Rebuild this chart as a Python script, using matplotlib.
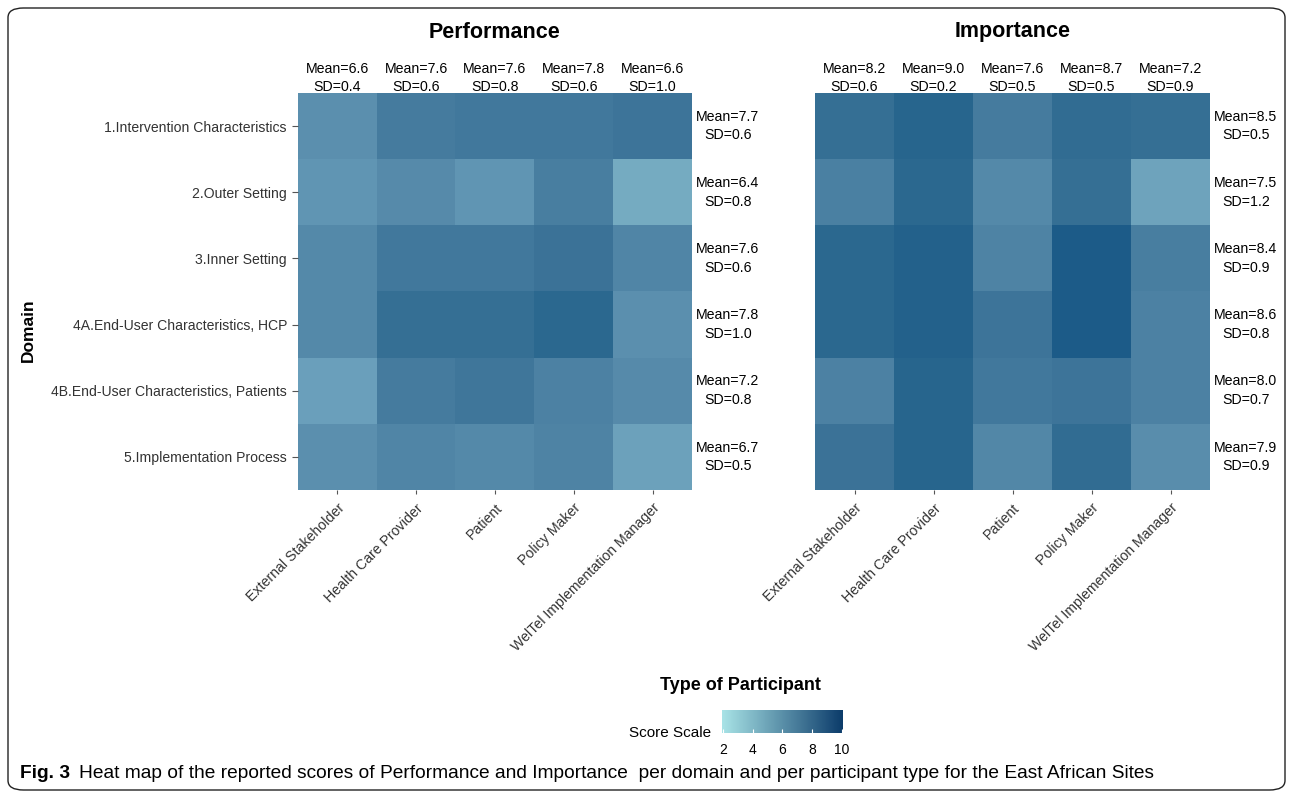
import matplotlib
matplotlib.use("Agg")
import matplotlib.pyplot as plt
import numpy as np
from matplotlib.colors import LinearSegmentedColormap, Normalize
from matplotlib.cm import ScalarMappable
from matplotlib.patches import FancyBboxPatch

plt.rcParams['font.family'] = ['Liberation Sans', 'DejaVu Sans']

domains = ["1.Intervention Characteristics", "2.Outer Setting", "3.Inner Setting",
           "4A.End-User Characteristics, HCP", "4B.End-User Characteristics, Patients",
           "5.Implementation Process"]
participants = ["External Stakeholder", "Health Care Provider", "Patient",
                "Policy Maker", "WelTel Implementation Manager"]

# cell scores
perf = [[6.7, 7.7, 7.9, 7.9, 8.1],
        [6.4, 6.9, 6.4, 7.6, 5.2],
        [7.0, 7.9, 7.9, 8.2, 7.2],
        [7.0, 8.4, 8.4, 8.7, 6.7],
        [5.9, 7.7, 8.0, 7.4, 6.9],
        [6.7, 7.2, 7.0, 7.3, 5.8]]
imp = [[8.4, 8.9, 7.7, 8.5, 8.4],
       [7.5, 8.7, 7.0, 8.4, 5.7],
       [8.7, 9.1, 7.3, 9.4, 7.6],
       [8.7, 9.1, 8.1, 9.4, 7.4],
       [7.4, 8.9, 7.9, 8.1, 7.4],
       [8.2, 8.9, 7.1, 8.5, 6.8]]

perf_col_mean = [6.6, 7.6, 7.6, 7.8, 6.6]
perf_col_sd = [0.4, 0.6, 0.8, 0.6, 1.0]
perf_row_mean = [7.7, 6.4, 7.6, 7.8, 7.2, 6.7]
perf_row_sd = [0.6, 0.8, 0.6, 1.0, 0.8, 0.5]
imp_col_mean = [8.2, 9.0, 7.6, 8.7, 7.2]
imp_col_sd = [0.6, 0.2, 0.5, 0.5, 0.9]
imp_row_mean = [8.5, 7.5, 8.4, 8.6, 8.0, 7.9]
imp_row_sd = [0.5, 1.2, 0.9, 0.8, 0.7, 0.9]

vmin, vmax = 1.9, 10.1
anchors = [(1.9, '#bdebee'), (5.15, '#77adc2'), (6.0, '#699eba'), (6.7, '#5b8fae'),
           (7.5, '#4a80a2'), (8.2, '#3c7398'), (8.7, '#2c6990'), (9.4, '#1d5c89'),
           (10.1, '#124f80')]
cell_cmap = LinearSegmentedColormap.from_list(
    'cells', [((v - vmin) / (vmax - vmin), c) for v, c in anchors])
bar_cmap = LinearSegmentedColormap.from_list('bar', ['#a8e3e6', '#0b3b6a'])
norm = Normalize(vmin=vmin, vmax=vmax)

W, H = 1290, 793
fig = plt.figure(figsize=(W / 100, H / 100), dpi=100)


def fx(px):
    return px / W


def fy(py):
    return 1 - py / H


tick_col = '#333333'
fs = 10.2


def panel(left, right, data, title, cm, csd, rm, rsd, show_y):
    ax = fig.add_axes([fx(left), fy(490), fx(right - left), fy(93) - fy(490)])
    ax.imshow(np.array(data), cmap=cell_cmap, norm=norm, aspect='auto')
    for s in ax.spines.values():
        s.set_visible(False)
    ax.set_xticks(range(len(participants)))
    ax.set_xticklabels(participants, rotation=45, ha='right', va='top',
                       rotation_mode='anchor', fontsize=fs, color=tick_col)
    ax.tick_params(axis='x', length=3, color='#555555', pad=5)
    if show_y:
        ax.set_yticks(range(len(domains)))
        ax.set_yticklabels(domains, fontsize=10.1, color=tick_col)
        ax.tick_params(axis='y', length=4, color='#555555', pad=4)
    else:
        ax.set_yticks([])
    for j in range(len(participants)):
        ax.annotate(f"Mean={cm[j]:.1f}\nSD={csd[j]:.1f}", (j, -0.5),
                    xytext=(0, -1), textcoords='offset points', ha='center',
                    va='bottom', fontsize=fs, linespacing=1.42)
    for i in range(len(domains)):
        ax.annotate(f"Mean={rm[i]:.1f}\nSD={rsd[i]:.1f}", (4.5, i),
                    xytext=(3, 0), textcoords='offset points', ha='left',
                    va='center', fontsize=fs, linespacing=1.42,
                    multialignment='center')
    fig.text(fx((left + right) / 2), fy(32), title, ha='center', va='center',
             fontsize=15.5, fontweight='bold')
    return ax


panel(298, 692, perf, "Performance", perf_col_mean, perf_col_sd,
      perf_row_mean, perf_row_sd, True)
panel(815, 1210, imp, "Importance", imp_col_mean, imp_col_sd,
      imp_row_mean, imp_row_sd, False)

fig.text(fx(28), fy(330), "Domain", rotation=90, ha='center', va='center',
         fontsize=12.5, fontweight='bold')
fig.text(fx(740), fy(686), "Type of Participant", ha='center', va='center',
         fontsize=13, fontweight='bold')

cax = fig.add_axes([fx(722), fy(733), fx(121), fy(710) - fy(733)])
cb = fig.colorbar(ScalarMappable(norm=norm, cmap=bar_cmap), cax=cax,
                  orientation='horizontal', ticks=[2, 4, 6, 8, 10])
cb.outline.set_visible(False)
cax.tick_params(axis='x', direction='in', color='white', length=3,
                labelsize=10, pad=7)
fig.text(fx(711), fy(733), "Score Scale", ha='right', va='center', fontsize=11)

# caption
cap1 = fig.text(fx(20), fy(773), "Fig. 3", ha='left', va='center',
                fontsize=13.8, fontweight='bold')
fig.canvas.draw()
bb = cap1.get_window_extent()
fig.text((bb.x1 + 9) / W, fy(773),
         "Heat map of the reported scores of Performance and Importance  per domain "
         "and per participant type for the East African Sites",
         ha='left', va='center', fontsize=13.8)

frame = FancyBboxPatch((fx(8), fy(790)), fx(1277), fy(8) - fy(790),
                       boxstyle="round,pad=0,rounding_size=0.012",
                       transform=fig.transFigure, fill=False,
                       edgecolor='#222222', linewidth=1)
fig.patches.append(frame)

fig.savefig("out.png", dpi=100)
